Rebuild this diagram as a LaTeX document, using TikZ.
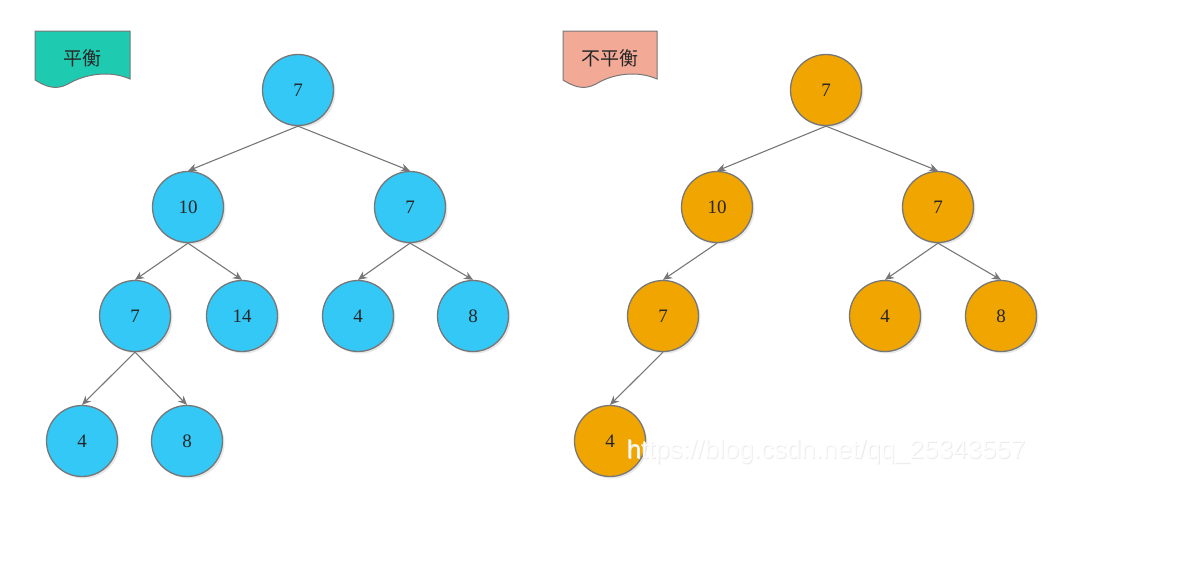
\documentclass[tikz,border=0pt]{standalone}
\usepackage{fontspec}
\newfontfamily\cjk{Noto Sans CJK SC}
\newfontfamily\wmfont{Liberation Sans}
\setmainfont{Liberation Serif}
\usetikzlibrary{arrows.meta,shadows}
\definecolor{bluefill}{HTML}{33C8F6}
\definecolor{orangefill}{HTML}{F0A500}
\definecolor{edgegray}{HTML}{777777}
\definecolor{tealfill}{HTML}{1ECBB0}
\definecolor{pinkfill}{HTML}{F2AA96}
\tikzset{
  treenode/.style={circle, draw=edgegray, line width=1.3pt, minimum size=71pt, inner sep=0pt,
    font=\fontsize{19}{19}\selectfont, text=black!85,
    drop shadow={opacity=0.18, shadow xshift=2pt, shadow yshift=-2pt}},
  bnode/.style={treenode, fill=bluefill},
  onode/.style={treenode, fill=orangefill},
  edge/.style={draw=edgegray, line width=1.1pt, -{Stealth[length=9pt,width=8pt]}},
  doclabel/.style={draw=edgegray, line width=1pt},
}
\begin{document}
\begin{tikzpicture}[x=1pt,y=-1pt]
\useasboundingbox (0,0) rectangle (1197,571);
% labels
\draw[doclabel, fill=tealfill] (35,31) -- (130,31) -- (130,79)
  .. controls (110,70) and (85,74) .. (68,84) .. controls (55,91) and (45,86) .. (35,80) -- cycle;
\node[font=\cjk\fontsize{19}{19}\selectfont, text=black!85] (lbl1) at (82,58) {平衡};
\draw[doclabel, fill=pinkfill] (563,31) -- (657,31) -- (657,79)
  .. controls (637,70) and (612,74) .. (596,84) .. controls (583,91) and (573,86) .. (563,80) -- cycle;
\node[font=\cjk\fontsize{19}{19}\selectfont, text=black!85] (lbl2) at (610,58) {不平衡};
% left tree
\node[bnode] (a) at (298,90) {7};
\node[bnode] (b) at (188,207) {10};
\node[bnode] (c) at (410,207) {7};
\node[bnode] (d) at (135,316) {7};
\node[bnode] (e) at (242,316) {14};
\node[bnode] (f) at (358,316) {4};
\node[bnode] (g) at (473,316) {8};
\node[bnode] (h) at (82,441) {4};
\node[bnode] (i) at (187,441) {8};
\draw[edge] (a.south) -- (b.north);
\draw[edge] (a.south) -- (c.north);
\draw[edge] (b.south) -- (d.north);
\draw[edge] (b.south) -- (e.north);
\draw[edge] (c.south) -- (f.north);
\draw[edge] (c.south) -- (g.north);
\draw[edge] (d.south) -- (h.north);
\draw[edge] (d.south) -- (i.north);
% right tree
\node[onode] (ra) at (826,90) {7};
\node[onode] (rb) at (717,207) {10};
\node[onode] (rc) at (938,207) {7};
\node[onode] (rd) at (663,316) {7};
\node[onode] (rf) at (885,316) {4};
\node[onode] (rg) at (1001,316) {8};
\node[onode] (rh) at (610,441) {4};
\draw[edge] (ra.south) -- (rb.north);
\draw[edge] (ra.south) -- (rc.north);
\draw[edge] (rb.south) -- (rd.north);
\draw[edge] (rc.south) -- (rf.north);
\draw[edge] (rc.south) -- (rg.north);
\draw[edge] (rd.south) -- (rh.north);
% watermark
\node[font=\wmfont\fontsize{26}{26}\selectfont, text=black!8, anchor=west] (wm0) at (623.8,453) {https://blog.csdn.net/qq\_25343557};
\node[font=\wmfont\fontsize{26}{26}\selectfont, text=white, opacity=0.85, anchor=west] (wm) at (623,452) {https://blog.csdn.net/qq\_25343557};
\end{tikzpicture}
\end{document}
